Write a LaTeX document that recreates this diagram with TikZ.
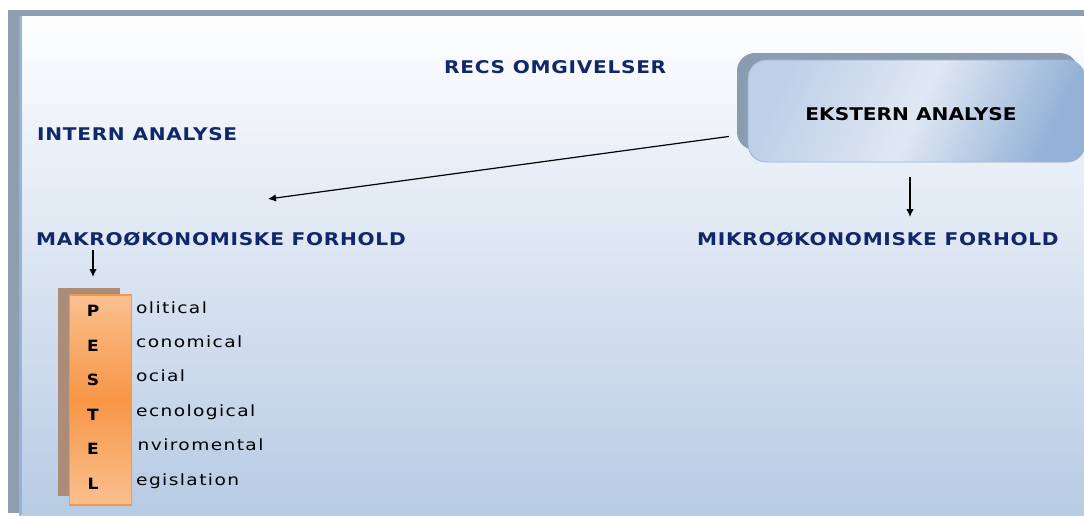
\documentclass[tikz,border=0pt]{standalone}
\usepackage{fontspec}
\setmainfont{DejaVu Sans}
\newfontfamily\hdrfont[LetterSpace=4,FakeStretch=1.15]{DejaVu Sans}
\newfontfamily\ekstfont[FakeStretch=1.15]{DejaVu Sans}
\newfontfamily\wordfont[LetterSpace=9,FakeStretch=1.2]{DejaVu Sans}
\newfontfamily\letterfont[FakeStretch=1.1]{DejaVu Sans}
\usetikzlibrary{arrows.meta}
\definecolor{navy}{RGB}{16,40,105}
\definecolor{framegray}{RGB}{142,157,176}
\definecolor{panelTop}{RGB}{254,254,255}
\definecolor{panelBot}{RGB}{183,203,228}
\definecolor{panelEdge}{RGB}{149,179,215}
\definecolor{boxLeft}{RGB}{190,208,232}
\definecolor{boxMid}{RGB}{224,232,243}
\definecolor{boxRight}{RGB}{148,178,215}
\definecolor{boxEdge}{RGB}{150,180,217}
\definecolor{boxShadow}{RGB}{140,156,176}
\definecolor{orLight}{RGB}{250,192,144}
\definecolor{orDark}{RGB}{247,150,70}
\definecolor{brownShadow}{RGB}{170,140,120}
\tikzset{
  hdr/.style={inner sep=0pt, anchor=base west, text=navy, font=\hdrfont\fontsize{17.5}{19}\selectfont\bfseries},
  arr/.style={line width=1.2pt, -{Latex[length=8pt,width=7.5pt]}},
  letter/.style={inner sep=0pt, anchor=base, font=\letterfont\fontsize{15.5}{17}\selectfont\bfseries},
  word/.style={inner sep=0pt, anchor=base west, font=\wordfont\fontsize{15.5}{17}\selectfont},
}
\begin{document}
\begin{tikzpicture}[x=1pt,y=-1pt]
\useasboundingbox (0,0) rectangle (1084,515);
\fill[white] (0,0) rectangle (1084,515);
% frame
\fill[framegray] (8,10) rectangle (1084,513);
\fill[top color=panelTop, bottom color=panelBot] (19,16) rectangle (1084,515);
\fill[panelEdge] (19,16) rectangle (21.5,515);
% headers
\node[hdr] (recs) at (444,73) {RECS OMGIVELSER};
\node[hdr] (intern) at (37,140.5) {INTERN ANALYSE};
\node[hdr] (makro) at (36,245) {MAKROØKONOMISKE FORHOLD};
\node[hdr] (mikro) at (697,245) {MIKROØKONOMISKE FORHOLD};
% ekstern box
\fill[boxShadow, rounded corners=18pt] (737,53) rectangle (1078,150);
\node[draw=boxEdge, line width=0.8pt, rounded corners=18pt, minimum width=337pt, minimum height=102pt,
  left color=boxLeft, right color=boxRight, middle color=boxMid, shading angle=65] (ekst) at (916.5,111) {};
\node[inner sep=0pt, anchor=base, font=\ekstfont\fontsize{17.5}{19}\selectfont\bfseries] (eksttxt) at (911,120) {EKSTERN ANALYSE};
% arrows
\coordinate (mtgt) at (268,199);
\draw[arr, shorten <=19pt] (ekst) -- (mtgt);
\coordinate (e1) at (910,177);
\coordinate (e2) at (910,217);
\draw[arr] (e1) -- (e2);
\coordinate (k1) at (93,250);
\coordinate (k2) at (93,277);
\draw[arr] (k1) -- (k2);
% PESTEL
\fill[brownShadow] (58,288) rectangle (120,496);
\node[draw=orDark, line width=1.5pt, minimum width=62pt, minimum height=210pt, inner sep=0pt,
  top color=orLight, bottom color=orLight, middle color=orDark] (pest) at (100.5,400) {};
\node[letter] (lP) at (93,316) {P};
\node[letter] (lE) at (93,351) {E};
\node[letter] (lS) at (93,385.5) {S};
\node[letter] (lT) at (93,420) {T};
\node[letter] (lE2) at (93,454.5) {E};
\node[letter] (lL) at (93,489) {L};
\node[word] (wP) at (136,313) {olitical};
\node[word] (wE) at (136,347) {conomical};
\node[word] (wS) at (136,381.5) {ocial};
\node[word] (wT) at (136,416) {ecnological};
\node[word] (wE2) at (137.5,450.5) {nviromental};
\node[word] (wL) at (136,485) {egislation};
\end{tikzpicture}
\end{document}
